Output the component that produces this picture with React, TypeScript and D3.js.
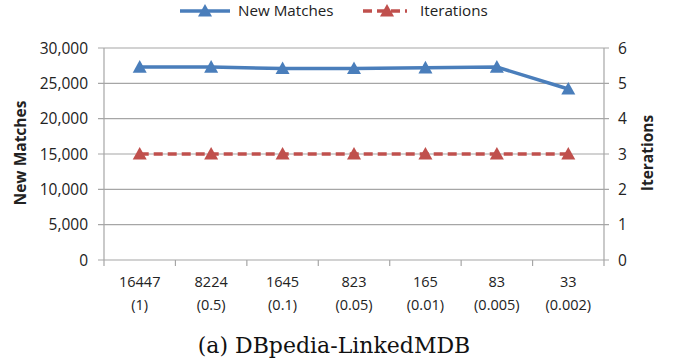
import React from "react";
import * as d3 from "d3";

const categories = ["16447", "8224", "1645", "823", "165", "83", "33"];
const subLabels = ["(1)", "(0.5)", "(0.1)", "(0.05)", "(0.01)", "(0.005)", "(0.002)"];
const newMatches = [27300, 27300, 27100, 27100, 27200, 27300, 24200];
const iterations = [3, 3, 3, 3, 3, 3, 3];
const leftTicks = [0, 5000, 10000, 15000, 20000, 25000, 30000];
const rightTicks = [0, 1, 2, 3, 4, 5, 6];

const W = 676, H = 364;
const m = { left: 104, right: 604, top: 48, bottom: 260 };
const BLUE = "#4a7ebb";
const RED = "#c0504d";
const GRID = "#a6a6a6";
const FONT = "'Open Sans', 'Noto Sans', sans-serif";

function tri(cx: number, cy: number, s = 7) {
  return `M${cx},${cy - s}L${cx + s},${cy + s * 0.8}L${cx - s},${cy + s * 0.8}Z`;
}

export default function App() {
  const x = d3.scaleBand<string>().domain(categories).range([m.left, m.right]);
  const yL = d3.scaleLinear().domain([0, 30000]).range([m.bottom, m.top]);
  const yR = d3.scaleLinear().domain([0, 6]).range([m.bottom, m.top]);
  const cx = (i: number) => (x(categories[i]) as number) + x.bandwidth() / 2;
  const lineL = d3.line<number>().x((_, i) => cx(i)).y((d) => yL(d));
  const lineR = d3.line<number>().x((_, i) => cx(i)).y((d) => yR(d));
  const fmt = d3.format(",");
  const boundaries = [...categories.map((c) => x(c) as number), m.right];

  return (
    <svg width={W} height={H} style={{ position: "absolute", left: 0, top: 0 }}>
      <rect width={W} height={H} fill="white" />
      {leftTicks.map((t) => (
        <line key={"g" + t} x1={m.left - 6} x2={m.right + 5} y1={yL(t)} y2={yL(t)} stroke={GRID} strokeWidth={1.2} />
      ))}
      <line x1={m.left} x2={m.left} y1={m.top} y2={m.bottom} stroke={GRID} strokeWidth={1.2} />
      <line x1={m.right} x2={m.right} y1={m.top} y2={m.bottom} stroke={GRID} strokeWidth={1.2} />
      {boundaries.map((b, i) => (
        <line key={"b" + i} x1={b} x2={b} y1={m.bottom} y2={m.bottom + 6} stroke={GRID} strokeWidth={1.2} />
      ))}
      {leftTicks.map((t) => (
        <text key={"l" + t} x={88} y={yL(t)} dy="0.36em" textAnchor="end" fontFamily={FONT} fontSize={15.5} fill="#222">
          {fmt(t)}
        </text>
      ))}
      {rightTicks.map((t) => (
        <text key={"r" + t} x={618} y={yR(t)} dy="0.36em" textAnchor="start" fontFamily={FONT} fontSize={15.5} fill="#222">
          {t}
        </text>
      ))}
      {categories.map((c, i) => (
        <g key={"x" + c}>
          <text x={cx(i)} y={287} textAnchor="middle" fontFamily={FONT} fontSize={14.5} fill="#222">{c}</text>
          <text x={cx(i)} y={310} textAnchor="middle" fontFamily={FONT} fontSize={14.5} fill="#222">{subLabels[i]}</text>
        </g>
      ))}
      <text transform={`translate(26,153) rotate(-90)`} textAnchor="middle" fontFamily={FONT} fontSize={15.5} fontWeight="bold" fill="#222">New Matches</text>
      <text transform={`translate(653,153) rotate(-90)`} textAnchor="middle" fontFamily={FONT} fontSize={15.5} fontWeight="bold" fill="#222">Iterations</text>
      <path d={lineR(iterations) || ""} fill="none" stroke={RED} strokeWidth={3.5} strokeDasharray="9,5" />
      {iterations.map((v, i) => (
        <path key={"ri" + i} d={tri(cx(i), yR(v))} fill={RED} />
      ))}
      <path d={lineL(newMatches) || ""} fill="none" stroke={BLUE} strokeWidth={3.5} />
      {newMatches.map((v, i) => (
        <path key={"nm" + i} d={tri(cx(i), yL(v))} fill={BLUE} />
      ))}
      <line x1={180} x2={230} y1={11} y2={11} stroke={BLUE} strokeWidth={3.5} />
      <path d={tri(205, 11)} fill={BLUE} />
      <text x={238} y={11} dy="0.36em" fontFamily={FONT} fontSize={15.2} fill="#222">New Matches</text>
      <line x1={363} x2={407} y1={11} y2={11} stroke={RED} strokeWidth={3.5} strokeDasharray="9,5" />
      <path d={tri(387, 11)} fill={RED} />
      <text x={420} y={11} dy="0.36em" fontFamily={FONT} fontSize={15.2} fill="#222">Iterations</text>
      <text x={334} y={353} textAnchor="middle" fontFamily="'DejaVu Serif', 'Liberation Serif', serif" fontSize={22} fill="#111">
        (a) DBpedia-LinkedMDB
      </text>
    </svg>
  );
}
